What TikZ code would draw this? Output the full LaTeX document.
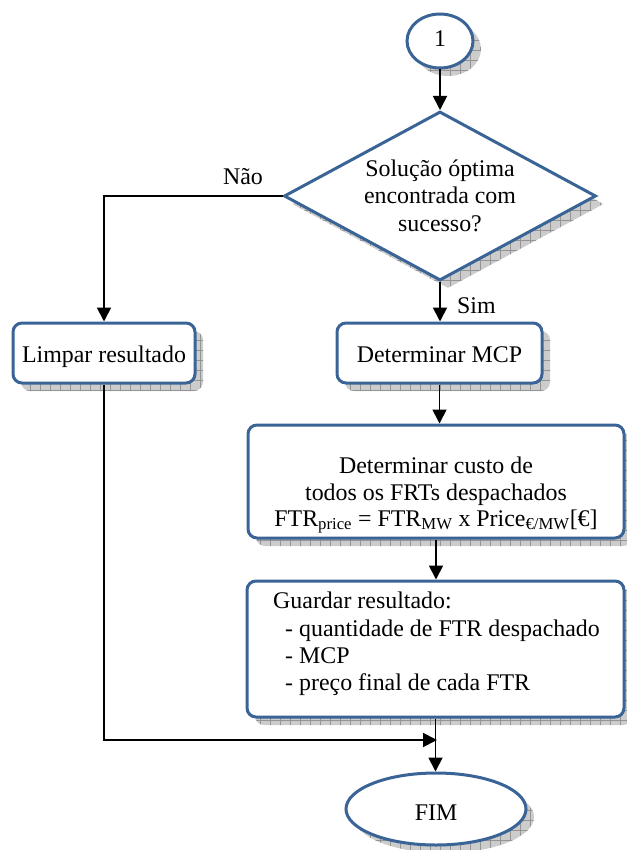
\documentclass[tikz,border=0pt]{standalone}
\usepackage{fontspec}
\setmainfont{Liberation Serif}
\usetikzlibrary{shapes.geometric,arrows.meta,shadows,patterns.meta}
\definecolor{edgeblue}{RGB}{59,100,150}
\newcommand{\flowfont}{\fontsize{23.9}{27}\selectfont}

\begin{document}
\begin{tikzpicture}[x=1pt,y=-1pt,
  hatched shadow/.style={
    general shadow={shadow xshift=8pt,shadow yshift=-8pt,fill=black!20},
    general shadow={shadow xshift=8pt,shadow yshift=-8pt,
      pattern={Hatch[angle=0,distance=10pt,line width=0.5pt]},pattern color=black!42}},
  blockbox/.style={draw=edgeblue,line width=3pt,fill=white,rounded corners=9pt,
    inner sep=0pt,hatched shadow},
  terminal/.style={ellipse,draw=edgeblue,line width=3pt,fill=white,inner sep=0pt,
    hatched shadow},
  decision/.style={diamond,draw=edgeblue,line width=3pt,fill=white,inner sep=0pt,
    hatched shadow},
  flow/.style={line width=1.8pt,-{Triangle[length=14pt,width=14pt]}},
  txt/.style={anchor=base,inner sep=0pt,font=\flowfont}]

\useasboundingbox (0,0) rectangle (626,850);

% shapes
\node[terminal,minimum width=66pt,minimum height=54pt] (start) at (440,41) {};
\node[decision,minimum width=312pt,minimum height=169pt] (dec) at (440,196) {};
\node[blockbox,minimum width=182pt,minimum height=60pt] (clear) at (104,353) {};
\node[blockbox,minimum width=205pt,minimum height=60pt] (mcp) at (439.5,353) {};
\node[blockbox,minimum width=376pt,minimum height=113pt] (cost) at (436,481.5) {};
\node[blockbox,minimum width=377pt,minimum height=136pt] (store) at (435.5,649) {};
\node[terminal,minimum width=180pt,minimum height=72pt] (fim) at (436,809) {};

% texts
\node[txt] (tstart) at (440,47) {1};
\node[txt] (td1) at (440,177) {Solução óptima};
\node[txt] (td2) at (440,204) {encontrada com};
\node[txt] (td3) at (440,231) {sucesso?};
\node[txt] (tclear) at (104,362) {Limpar resultado};
\node[txt] (tmcp) at (439.5,362) {Determinar MCP};
\node[txt] (tc1) at (436,473) {Determinar custo de};
\node[txt] (tc2) at (436,500) {todos os FRTs despachados};
\node[txt] (tc3) at (436,526) {FTR\textsubscript{price} = FTR\textsubscript{MW} x Price\textsubscript{€/MW}[€]};
\node[txt,anchor=base west] (ts1) at (273,608) {Guardar resultado:};
\node[txt,anchor=base west] (ts2) at (285,636) {- quantidade de FTR despachado};
\node[txt,anchor=base west] (ts3) at (285,663) {- MCP};
\node[txt,anchor=base west] (ts4) at (285,690) {- preço final de cada FTR};
\node[txt] (tfim) at (436,820) {FIM};
\node[txt] (lno) at (243,185) {Não};
\node[txt,anchor=base west] (lyes) at (457,313) {Sim};

% connectors
\coordinate (join) at (437,740);
\draw[flow] (start.south -| dec.north) -- (dec.north);
\draw[flow] (dec.west) -| (clear.north);
\draw[flow] (dec.south) -- (dec.south |- mcp.north);
\draw[flow] (mcp.south) -- (mcp.south |- cost.north);
\draw[flow] (cost.south) -- (cost.south |- store.north);
\draw[flow] (store.south) -- (store.south |- fim.north);
\draw[flow] (clear.south) |- (join);
\end{tikzpicture}
\end{document}
